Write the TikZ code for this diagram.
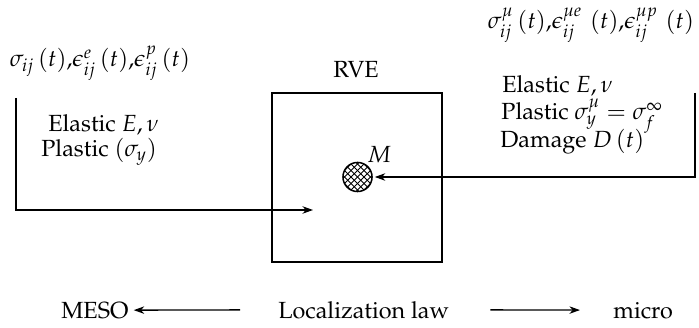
\documentclass[tikz,border=0pt]{standalone}
\usepackage[T1]{fontenc}
\usepackage{mathpazo}
\usetikzlibrary{arrows.meta}
\begin{document}
\begin{tikzpicture}[x=0.5263pt,y=-0.5263pt,
  lbl/.style={inner sep=0pt, font=\fontsize{12.3}{14.8}\selectfont},
  conn/.style={line width=0.7pt, -{Stealth[length=5.5pt,width=3.9pt,inset=1.7pt]}},
  hatch/.style={line width=0.5pt}]
\useasboundingbox (0,0) rectangle (699,328);
% top labels
\node[lbl, anchor=base] (sigL) at (100,67) {$\sigma_{ij}\,(t){,}\epsilon^{e}_{ij}\,(t){,}\epsilon^{p}_{ij}\,(t)$};
\node[lbl, anchor=base] (sigR) at (591,29) {$\sigma^{\mu}_{ij}\,(t){,}\epsilon^{\mu e}_{ij}\,\,(t){,}\epsilon^{\mu p}_{ij}\,\,(t)$};
% RVE
\node[lbl, anchor=base] (rvelbl) at (356,78) {RVE};
\node[draw, line width=0.7pt, minimum width=89.5pt, minimum height=89pt, inner sep=0pt] (rve) at (357,177.5) {};
\node[circle, draw, line width=0.8pt, minimum size=15.3pt, inner sep=0pt,
  path picture={\foreach \d in {-19.5,-13,-6.5,0,6.5,13,19.5}{
    \draw[hatch] ([shift={(\d-20,-20)}]path picture bounding box.center) -- ++(40,40);
    \draw[hatch] ([shift={(\d-20,20)}]path picture bounding box.center) -- ++(40,-40);}}] (M) at (357.5,177) {};
\node[lbl, anchor=base west] (Mlbl) at (367,163) {$M$};
% left material
\node[lbl, anchor=base west] (elL) at (48,132) {Elastic $E,\nu$};
\node[lbl, anchor=base west] (plL) at (41,157) {Plastic $(\sigma_y)$};
% right material
\node[lbl, anchor=base west] (elR) at (502,93) {Elastic $E,\nu$};
\node[lbl, anchor=base west] (plR) at (501,120) {Plastic $\sigma^{\mu}_{y}=\sigma^{\infty}_{f}$};
\node[lbl, anchor=base west] (dmR) at (500,148) {Damage $D\,(t)$};
% connectors
\coordinate (lstart) at (16,98);
\coordinate (lend) at (313,210);
\draw[conn] (lstart) |- (lend);
\coordinate (rstart) at (695,93);
\draw[conn, shorten >=1.05pt] (rstart) |- (M);
% bottom
\node[lbl, anchor=base west] (meso) at (61,318) {MESO};
\node[lbl, anchor=base west] (loc) at (278,318) {Localization law};
\node[lbl, anchor=base west] (micro) at (613,318) {micro};
\draw[conn, shorten <=20pt, shorten >=2.6pt] (loc.west) -- (meso.east);
\draw[conn, shorten <=21.5pt, shorten >=17.4pt] (loc.east) -- (micro.west);
\end{tikzpicture}
\end{document}
